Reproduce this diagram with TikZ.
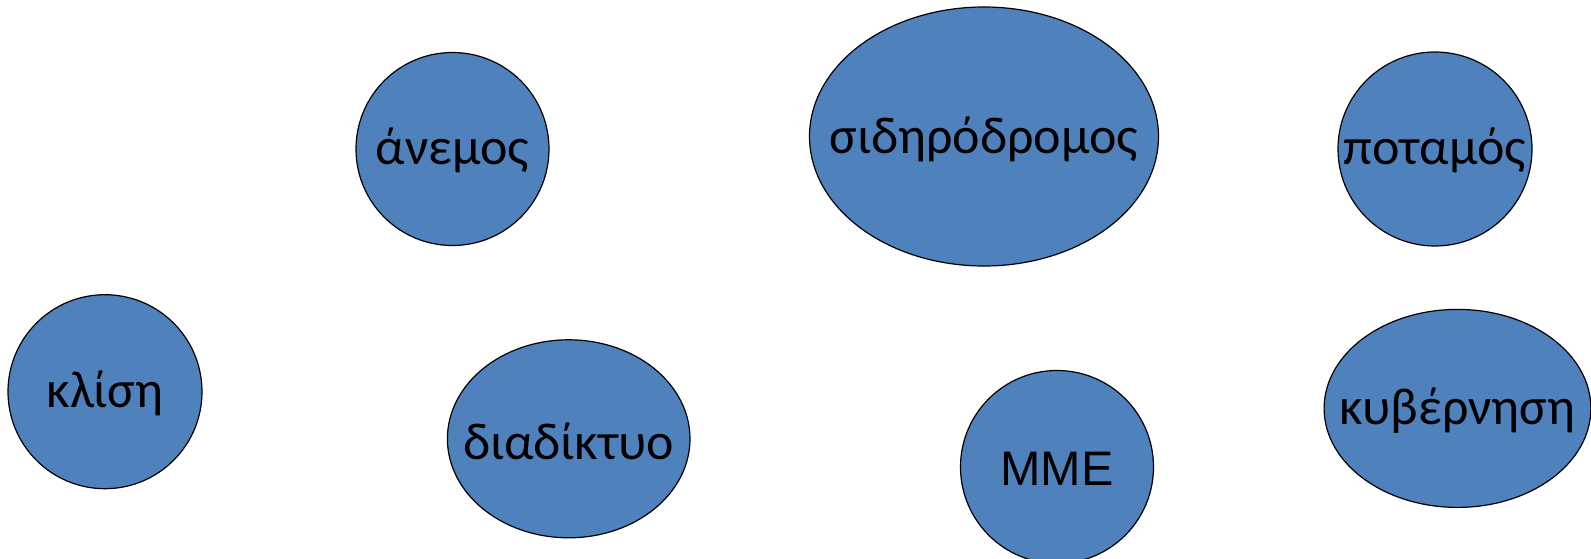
\documentclass[tikz,border=0pt]{standalone}
\usepackage{fontspec}
\setmainfont{Carlito}
\newfontfamily\arialf{Liberation Sans}
\usetikzlibrary{shapes.geometric}
\definecolor{blobblue}{HTML}{4F81BD}
\tikzset{
  blob/.style={ellipse, draw=black, fill=blobblue, line width=1.2pt, inner sep=0pt},
  lbl/.style={inner sep=0pt, font=\fontsize{52}{56}\selectfont, text=black}
}
\begin{document}
\begin{tikzpicture}[x=1pt,y=-1pt]
\useasboundingbox (0,0) rectangle (1591,559);
\node[blob, minimum width=193pt, minimum height=193pt] (anemos) at (452.5,149) {};
\node[lbl] (anemost) at (452.5,150) {άνεμος};
\node[blob, minimum width=349pt, minimum height=259pt] (sid) at (984,136.5) {};
\node[lbl] (sidt) at (984,139) {σιδηρόδρομος};
\node[blob, minimum width=194pt, minimum height=194pt] (pot) at (1435,149) {};
\node[lbl] (pott) at (1435,150) {ποταμός};
\node[blob, minimum width=194pt, minimum height=194pt] (klisi) at (105,391.7) {};
\node[lbl] (klisit) at (105,393.5) {κλίση};
\node[blob, minimum width=242.6pt, minimum height=198pt] (diad) at (568.7,438.8) {};
\node[lbl] (diadt) at (568.7,441) {διαδίκτυο};
\node[blob, minimum width=193pt, minimum height=193pt] (mme) at (1057,467) {};
\node[lbl, font=\arialf\fontsize{48.5}{52}\selectfont] (mmet) at (1057,469) {ΜΜΕ};
\node[blob, minimum width=266.8pt, minimum height=198pt] (kyv) at (1457.5,408.4) {};
\node[lbl] (kyvt) at (1457.5,411) {κυβέρνηση};
\end{tikzpicture}
\end{document}
